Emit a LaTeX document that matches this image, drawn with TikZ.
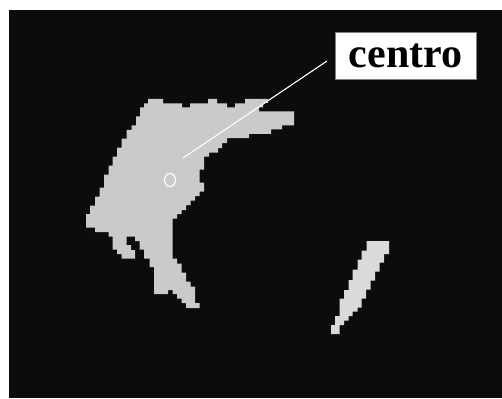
\documentclass[tikz,border=0pt]{standalone}
\usepackage{fontspec}
\setmainfont{Liberation Serif}
\usetikzlibrary{shapes.geometric}
\definecolor{scan}{HTML}{0C0C0C}
\definecolor{tissue}{HTML}{CACACA}
\definecolor{spot}{HTML}{DADADA}
\begin{document}
\begin{tikzpicture}[x=1pt, y=-1pt,
		blob/.style={fill=tissue},
		sliver/.style={fill=spot},
		ring/.style={draw=white, line width=1.2pt, shape=ellipse, inner sep=0, minimum width=11pt, minimum height=13pt},
		leader/.style={draw=white, line width=1.1pt},
		tag/.style={draw=black!50, line width=0.8pt, fill=white, minimum width=141pt, minimum height=47pt, inner sep=0, font=\fontsize{42}{42}\selectfont\bfseries}]
			\useasboundingbox (0,0) rectangle (502,398);
			\fill[scan] (9,10) rectangle (502,398);

			\fill[blob] (148,99) -- (163,99) -- (163,103.5) -- (182,103.5) -- (182,107.5) -- (190,107.5) -- (190,103.5) -- (208,103.5) -- (208,99) -- (217,99) -- (217,103.5) -- (227,103.5) -- (227,107.5) -- (235,107.5) -- (235,103.5) -- (245,103.5) -- (245,99) -- (268,99) -- (268,103) -- (263,103) -- (263,107.5) -- (259,107.5) -- (259,111.5) -- (294,111.5) -- (294,125.5) -- (282,125.5) -- (282,129.5) -- (271,129.5) -- (271,134) -- (249,134) -- (249,138) -- (227,138) -- (227,143) -- (222,143) -- (222,148) -- (218,148) -- (218,152.5) -- (209,152.5) -- (209,156.5) -- (204,156.5) -- (204,169.5) -- (199.5,169.5) -- (199.5,182.5) -- (204,182.5) -- (204,191.5) -- (199.5,191.5) -- (199.5,196) -- (195,196) -- (195,200.5) -- (190.5,200.5) -- (190.5,205) -- (186,205) -- (186,210) -- (181.5,210) -- (181.5,214) -- (177,214) -- (177,218.5) -- (172.5,218.5) -- (172.5,258.5) -- (177,258.5) -- (177,263.5) -- (181.5,263.5) -- (181.5,272.5) -- (186,272.5) -- (186,281.5) -- (190.5,281.5) -- (190.5,286.5) -- (195,286.5) -- (195,303) -- (199.5,303) -- (199.5,308) -- (186,308) -- (186,303) -- (181.5,303) -- (181.5,298.5) -- (177,298.5) -- (177,294) -- (172.5,294) -- (172.5,290) -- (168,290) -- (168,294) -- (154,294) -- (154,267) -- (149.5,267) -- (149.5,258.5) -- (144,258.5) -- (144,249.5) -- (139.5,249.5) -- (139.5,241) -- (135,241) -- (135,236.5) -- (126.5,236.5) -- (126.5,245) -- (131,245) -- (131,250) -- (135,250) -- (135,258.5) -- (121.5,258.5) -- (121.5,254) -- (117,254) -- (117,249.5) -- (112.5,249.5) -- (112.5,236.5) -- (108.5,236.5) -- (108.5,232) -- (95,232) -- (95,227.5) -- (86,227.5) -- (86,214) -- (90,214) -- (90,205.5) -- (95,205.5) -- (95,196.5) -- (99.5,196.5) -- (99.5,187.5) -- (104,187.5) -- (104,174.5) -- (108.5,174.5) -- (108.5,165.5) -- (112.5,165.5) -- (112.5,156.5) -- (117,156.5) -- (117,147.5) -- (121.5,147.5) -- (121.5,138.5) -- (126.5,138.5) -- (126.5,130) -- (131.5,130) -- (131.5,125.5) -- (136,125.5) -- (136,116.5) -- (140,116.5) -- (140,107.5) -- (144,107.5) -- (144,103.5) -- (148,103.5) -- cycle;

			\fill[sliver] (366.5,241) -- (389,241) -- (389,254) -- (384,254) -- (384,262.5) -- (379.5,262.5) -- (379.5,271.5) -- (375,271.5) -- (375,280.5) -- (370.5,280.5) -- (370.5,289.5) -- (366,289.5) -- (366,298.5) -- (361.5,298.5) -- (361.5,307.5) -- (357.5,307.5) -- (357.5,311.5) -- (352.5,311.5) -- (352.5,316) -- (348.5,316) -- (348.5,320.5) -- (344,320.5) -- (344,325) -- (339.5,325) -- (339.5,334) -- (331,334) -- (331,325) -- (335,325) -- (335,316) -- (339.5,316) -- (339.5,298.5) -- (344,298.5) -- (344,290) -- (348.5,290) -- (348.5,280) -- (352.5,280) -- (352.5,269.5) -- (357.5,269.5) -- (357.5,259.5) -- (361.5,259.5) -- (361.5,250.5) -- (366.5,250.5) -- cycle;

			\node[ring] (cen) at (170,180) {};
			\node[tag] (centro) at (405.5,55.5) {centro};
			\coordinate (tip) at (183,158);
			\coordinate (lead) at (327,61);
			\draw[leader] (tip) -- (lead);
		\end{tikzpicture}
\end{document}
